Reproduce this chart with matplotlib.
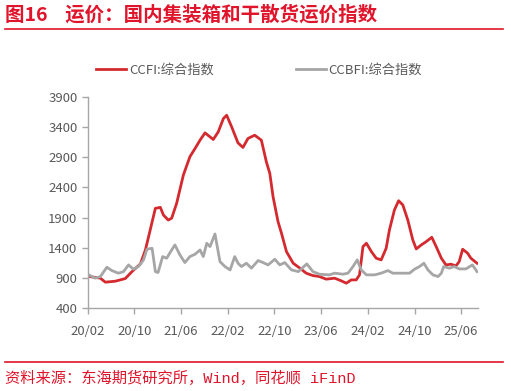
import pandas as pd
import matplotlib
matplotlib.use('Agg')
import matplotlib.pyplot as plt
import matplotlib.dates as mdates

plt.rcParams['font.family'] = ['Noto Sans CJK SC', 'DejaVu Sans']

# CCFI composite index (weekly)
ccfi_dates = ['2020-02-06', '2020-04-06', '2020-05-02', '2020-06-23', '2020-08-14', '2020-09-18',
              '2020-11-01', '2020-11-27', '2020-12-22', '2021-01-18', '2021-02-13', '2021-03-01',
              '2021-03-26', '2021-04-13', '2021-05-09', '2021-06-13', '2021-07-17', '2021-08-13',
              '2021-09-08', '2021-10-04', '2021-11-16', '2021-12-12', '2022-01-08', '2022-01-25',
              '2022-02-20', '2022-03-25', '2022-04-20', '2022-05-16', '2022-06-20', '2022-07-25',
              '2022-08-20', '2022-09-07', '2022-09-24', '2022-10-20', '2022-11-07', '2022-12-03',
              '2023-01-07', '2023-02-11', '2023-03-16', '2023-04-20', '2023-05-24', '2023-06-28',
              '2023-08-11', '2023-09-15', '2023-10-11', '2023-11-06', '2023-12-02', '2023-12-19',
              '2024-01-06', '2024-01-24', '2024-02-19', '2024-03-15', '2024-04-10', '2024-05-06',
              '2024-05-23', '2024-06-18', '2024-07-10', '2024-08-01', '2024-08-27', '2024-09-22',
              '2024-10-10', '2024-11-05', '2024-12-01', '2024-12-30', '2025-01-22', '2025-02-18',
              '2025-03-14', '2025-04-09', '2025-05-05', '2025-05-22', '2025-06-09', '2025-07-05',
              '2025-07-22', '2025-08-23']
ccfi_values = [925, 896, 830, 846, 890, 1005,
               1133, 1364, 1695, 2054, 2070, 1943,
               1860, 1890, 2137, 2605, 2908, 3046,
               3184, 3305, 3195, 3321, 3543, 3597,
               3404, 3139, 3063, 3212, 3266, 3184,
               2825, 2633, 2246, 1832, 1640, 1336,
               1144, 1062, 979, 939, 923, 880,
               896, 852, 813, 868, 868, 951,
               1419, 1475, 1336, 1227, 1199, 1392,
               1695, 2026, 2180, 2109, 1860, 1530,
               1381, 1447, 1502, 1574, 1419, 1227,
               1116, 1128, 1100, 1171, 1376, 1310,
               1227, 1144]

# CCBFI composite index
ccbfi_dates = ['2020-02-06', '2020-03-10', '2020-04-06', '2020-05-10', '2020-06-05', '2020-07-09',
               '2020-08-05', '2020-08-31', '2020-09-26', '2020-10-22', '2020-11-17', '2020-12-05',
               '2021-01-01', '2021-01-18', '2021-02-01', '2021-02-25', '2021-03-18', '2021-04-13',
               '2021-04-30', '2021-05-26', '2021-06-21', '2021-07-17', '2021-08-13', '2021-09-08',
               '2021-09-25', '2021-10-13', '2021-10-30', '2021-11-25', '2021-12-21', '2022-01-16',
               '2022-02-12', '2022-03-08', '2022-03-25', '2022-04-12', '2022-05-08', '2022-06-03',
               '2022-07-08', '2022-08-03', '2022-08-29', '2022-10-03', '2022-10-29', '2022-11-24',
               '2022-12-29', '2023-02-03', '2023-03-19', '2023-04-20', '2023-05-24', '2023-07-15',
               '2023-08-11', '2023-09-24', '2023-10-20', '2023-11-15', '2023-12-07', '2023-12-28',
               '2024-01-24', '2024-03-07', '2024-04-10', '2024-05-15', '2024-06-10', '2024-07-23',
               '2024-09-05', '2024-10-01', '2024-10-27', '2024-11-19', '2024-12-10', '2025-01-05',
               '2025-02-01', '2025-02-18', '2025-03-02', '2025-04-01', '2025-04-26', '2025-05-22',
               '2025-06-26', '2025-07-30', '2025-08-23']
ccbfi_values = [951, 896, 923, 1078, 1022, 979,
                1005, 1116, 1045, 1089, 1199, 1376,
                1392, 1005, 990, 1254, 1227, 1364,
                1447, 1282, 1155, 1254, 1293, 1364,
                1254, 1475, 1420, 1629, 1171, 1089,
                1033, 1254, 1144, 1089, 1144, 1062,
                1188, 1155, 1116, 1210, 1116, 1155,
                1033, 1005, 1133, 1005, 962, 951,
                979, 962, 979, 1089, 1199, 1033,
                951, 951, 979, 1022, 979, 979,
                979, 1045, 1089, 1144, 1033, 951,
                923, 979, 1089, 1062, 1089, 1050,
                1050, 1116, 1005]

tick_dates = ['2020-02-01', '2020-10-01', '2021-06-01', '2022-02-01', '2022-10-01',
              '2023-06-01', '2024-02-01', '2024-10-01', '2025-06-01']
y_ticks = [400, 900, 1400, 1900, 2400, 2900, 3400, 3900]

red = '#d42a2f'
grey = '#a6a6a6'
text_grey = '#595959'
title_red = '#e0142a'

fig = plt.figure(figsize=(5.11, 3.91), dpi=100)
ax = fig.add_axes([0.172, 0.212, 0.763, 0.540])

ax.plot(pd.to_datetime(ccfi_dates), ccfi_values, color=red, lw=2.0, label='CCFI:综合指数')
ax.plot(pd.to_datetime(ccbfi_dates), ccbfi_values, color=grey, lw=2.0, label='CCBFI:综合指数')

ax.set_xlim(pd.Timestamp('2020-02-01'), pd.Timestamp('2025-08-27'))
ax.set_ylim(400, 3900)
ax.set_yticks(y_ticks)
ax.set_xticks(pd.to_datetime(tick_dates))
ax.xaxis.set_major_formatter(mdates.DateFormatter('%y/%m'))

for s in ['top', 'right']:
    ax.spines[s].set_visible(False)
for s in ['left', 'bottom']:
    ax.spines[s].set_color(grey)
    ax.spines[s].set_linewidth(1.0)
ax.tick_params(axis='both', colors=grey, labelcolor=text_grey, labelsize=9.5, length=4, width=1.0)
ax.tick_params(axis='x', pad=8)

fig.legend(loc='center', bbox_to_anchor=(0.507, 0.82), ncol=2, frameon=False,
           fontsize=9.5, handlelength=2.3, handletextpad=0.2, columnspacing=6.2,
           labelcolor=text_grey)

# title and source
fig.text(0.010, 0.962, '图16    运价：国内集装箱和干散货运价指数', color=title_red,
         fontsize=14, fontweight='bold', va='center', ha='left')
fig.add_artist(plt.Line2D([0.01, 0.985], [0.925, 0.925], color=title_red, lw=1.2))
fig.add_artist(plt.Line2D([0.01, 0.985], [0.073, 0.073], color=title_red, lw=1.2))
fig.text(0.010, 0.033, '资料来源：东海期货研究所，Wind，同花顺 iFinD', color=title_red,
         fontsize=11, family=['Liberation Mono', 'Noto Sans CJK SC'], va='center', ha='left')

fig.savefig('out.png', dpi=100)
